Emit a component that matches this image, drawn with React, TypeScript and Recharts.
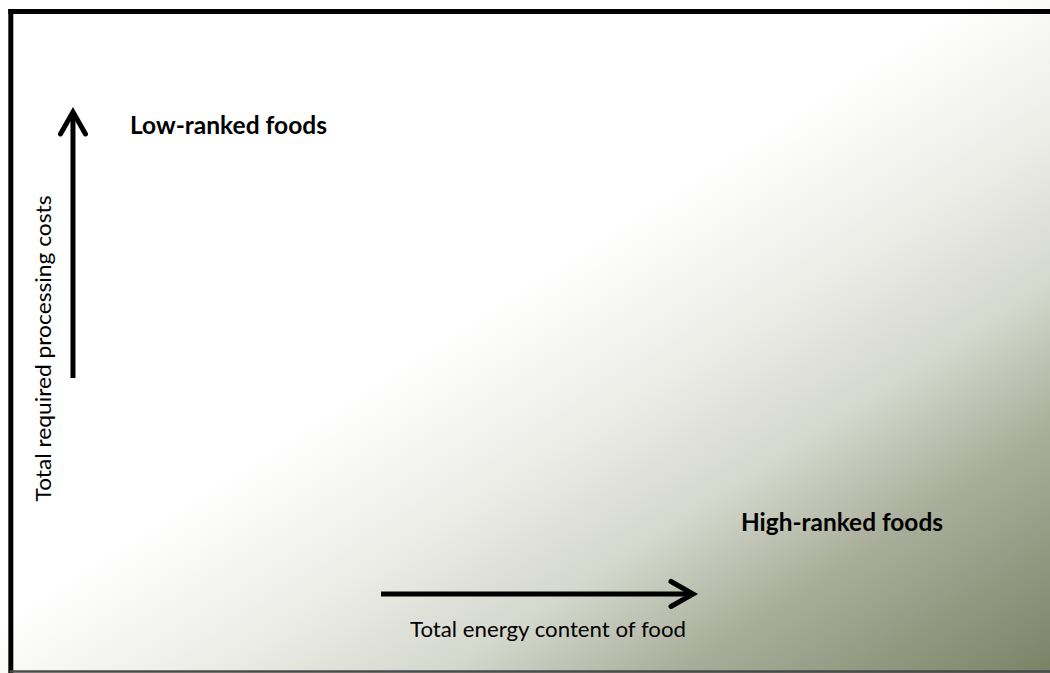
import React from "react";
import {
  ComposedChart,
  XAxis,
  YAxis,
  ReferenceArea,
  ReferenceLine,
  Scatter,
} from "recharts";

// Conceptual diagram: x = total energy content of food, y = total required processing costs (0–100 scale)
const arrowNames = ["processingCost", "energyContent"];
const arrowStartX = [6.95, 36.29];
const arrowStartY = [43.83, 11.74];
const arrowEndX = [6.95, 66.0];
const arrowEndY = [83.36, 11.74];

const labelTexts = [
  "Low-ranked foods",
  "High-ranked foods",
  "Total energy content of food",
  "Total required processing costs",
];
const labelX = [12.38, 70.57, 39.05, 4.86];
const labelY = [80.04, 21.1, 5.35, 48.22];
const labelBold = [true, true, false, false];
const labelRotated = [false, false, false, true];
const labelLength = [197, 202, 276, 306];

const frameX1 = [1.03, 1.03, 1.03];
const frameY1 = [98.3, 98.3, 0.22];
const frameX2 = [100, 1.03, 100];
const frameY2 = [98.3, 0, 0.22];
const frameColor = ["#000000", "#000000", "#4a4a4a"];
const frameWidth = [5, 5, 2.5];

const annotations = labelTexts.map((text, i) => ({
  x: labelX[i],
  y: labelY[i],
  text,
  bold: labelBold[i],
  rotated: labelRotated[i],
  len: labelLength[i],
}));

const FONT = "Lato, 'Open Sans', sans-serif";

const ArrowShape = (props: any) => {
  const { x1, y1, x2, y2 } = props;
  const dx = x2 - x1;
  const dy = y2 - y1;
  const L = Math.sqrt(dx * dx + dy * dy) || 1;
  const ux = dx / L;
  const uy = dy / L;
  const back = 22;
  const side = 12.5;
  const bx = x2 - ux * back;
  const by = y2 - uy * back;
  const px = -uy;
  const py = ux;
  return (
    <g>
      <line x1={x1} y1={y1} x2={x2 - ux * 2} y2={y2 - uy * 2} stroke="#000" strokeWidth={5} />
      <polyline
        points={`${bx + px * side},${by + py * side} ${x2},${y2} ${bx - px * side},${by - py * side}`}
        fill="none"
        stroke="#000"
        strokeWidth={5}
        strokeLinejoin="miter"
        strokeLinecap="round"
      />
    </g>
  );
};

const TextShape = (props: any) => {
  const { cx, cy, payload } = props;
  if (payload.rotated) {
    return (
      <text
        x={cx}
        y={cy}
        transform={`rotate(-90, ${cx}, ${cy})`}
        textAnchor="middle"
        fontFamily={FONT}
        fontSize={21.5}
        fill="#000"
        textLength={payload.len}
        lengthAdjust="spacingAndGlyphs"
      >
        {payload.text}
      </text>
    );
  }
  return (
    <text
      x={cx}
      y={cy}
      textAnchor="start"
      fontFamily={FONT}
      fontSize={payload.bold ? 24.5 : 21.5}
      fontWeight={payload.bold ? 700 : 400}
      fill="#000"
      textLength={payload.len}
      lengthAdjust="spacingAndGlyphs"
    >
      {payload.text}
    </text>
  );
};

export default function App() {
  return (
    <div style={{ position: "fixed", left: 0, top: 0, width: 1050, height: 673, background: "#fff" }}>
      <ComposedChart width={1050} height={673} margin={{ top: 0, right: 0, bottom: 0, left: 0 }}>
        <defs>
          <linearGradient id="bgGrad" x1="0" y1="0" x2="1" y2="1">
            <stop offset="0" stopColor="#ffffff" />
            <stop offset="0.46" stopColor="#ffffff" />
            <stop offset="0.6" stopColor="#ebece6" />
            <stop offset="0.71" stopColor="#d5d8cd" />
            <stop offset="0.82" stopColor="#a9ae9a" />
            <stop offset="1" stopColor="#7a8366" />
          </linearGradient>
        </defs>
        <XAxis type="number" dataKey="x" domain={[0, 100]} hide allowDataOverflow />
        <YAxis type="number" dataKey="y" domain={[0, 100]} hide allowDataOverflow />
        <ReferenceArea
          x1={0}
          x2={100}
          y1={0}
          y2={100}
          fill="url(#bgGrad)"
          fillOpacity={1}
          stroke="none"
          ifOverflow="visible"
        />
        {frameX1.map((_, i) => (
          <ReferenceLine
            key={`frame-${i}`}
            segment={[
              { x: frameX1[i], y: frameY1[i] },
              { x: frameX2[i], y: frameY2[i] },
            ]}
            stroke={frameColor[i]}
            strokeWidth={frameWidth[i]}
            strokeLinecap="square"
            ifOverflow="visible"
          />
        ))}
        {arrowNames.map((name, i) => (
          <ReferenceLine
            key={name}
            segment={[
              { x: arrowStartX[i], y: arrowStartY[i] },
              { x: arrowEndX[i], y: arrowEndY[i] },
            ]}
            ifOverflow="visible"
            shape={ArrowShape}
          />
        ))}
        <Scatter data={annotations} dataKey="y" isAnimationActive={false} shape={TextShape} />
      </ComposedChart>
    </div>
  );
}
